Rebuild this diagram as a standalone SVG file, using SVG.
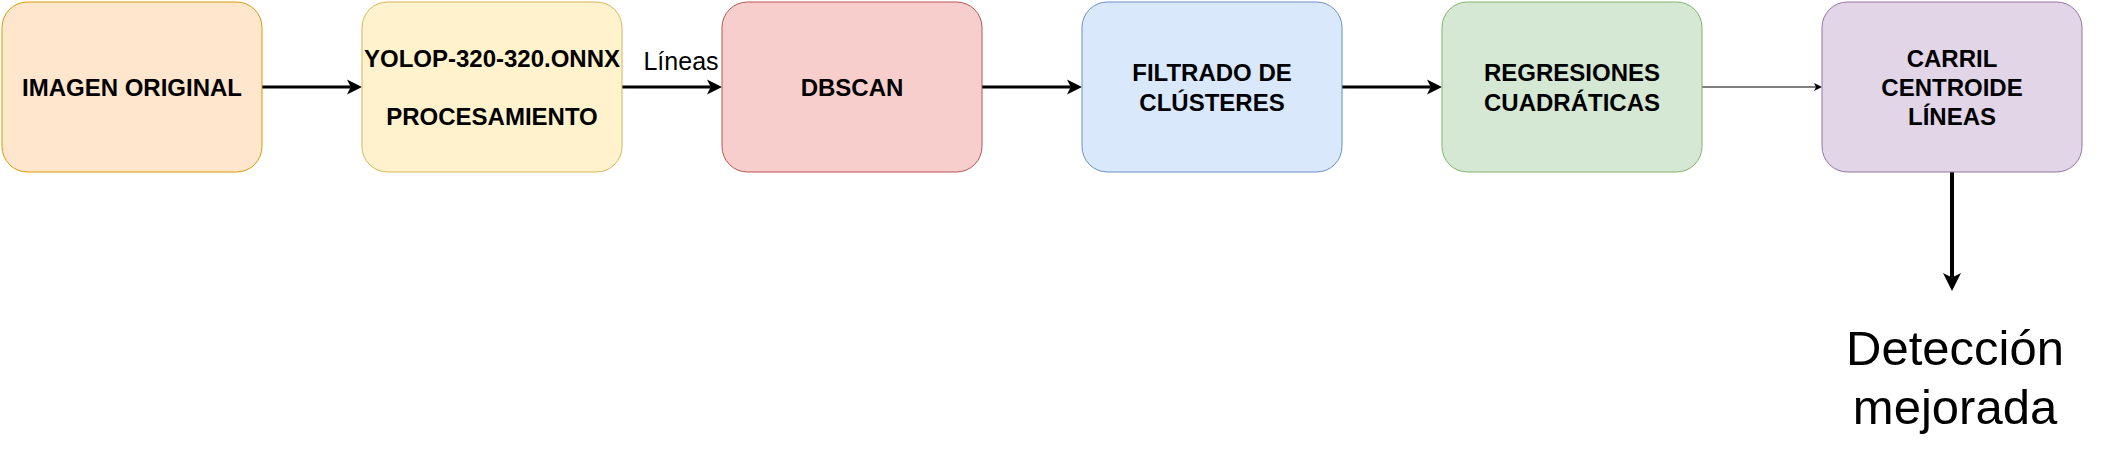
<svg xmlns="http://www.w3.org/2000/svg" width="2105" height="455" viewBox="0 0 2105 455">
<style>
  .box { stroke-width: 1; }
  .lbl { font-family: "Liberation Sans", Arial, Helvetica, sans-serif; font-size: 24px; font-weight: bold; text-anchor: middle; fill: #000; }
  .edge { stroke: #000; fill: none; }
  .elbl { font-family: "Liberation Sans", Arial, Helvetica, sans-serif; font-size: 25px; text-anchor: middle; fill: #000; }
  .big { font-family: "Liberation Sans", Arial, Helvetica, sans-serif; font-size: 49px; text-anchor: middle; fill: #000; }
</style>
<defs>
  <marker id="arrA" markerUnits="userSpaceOnUse" markerWidth="15" markerHeight="15" refX="3.75" refY="7.5" orient="auto" overflow="visible">
    <path d="M0,0 L15,7.5 L0,15 L3.75,7.5 Z" fill="#000"/>
  </marker>
  <marker id="arrB" markerUnits="userSpaceOnUse" markerWidth="8" markerHeight="8" refX="2" refY="4" orient="auto" overflow="visible">
    <path d="M0,0 L8,4 L0,8 L2,4 Z" fill="#000"/>
  </marker>
  <marker id="arrC" markerUnits="userSpaceOnUse" markerWidth="18" markerHeight="18" refX="4.5" refY="9" orient="auto" overflow="visible">
    <path d="M0,0 L18,9 L0,18 L4.5,9 Z" fill="#000"/>
  </marker>
</defs>
<rect width="2105" height="455" fill="#ffffff"/>

<g id="connectors">
  <line class="edge" x1="262" y1="87" x2="350.75" y2="87" stroke-width="3" marker-end="url(#arrA)"/>
  <line class="edge" x1="622" y1="87" x2="710.75" y2="87" stroke-width="3" marker-end="url(#arrA)"/>
  <text class="elbl" x="681" y="70">Líneas</text>
  <line class="edge" x1="982" y1="87" x2="1070.75" y2="87" stroke-width="3" marker-end="url(#arrA)"/>
  <line class="edge" x1="1342" y1="87" x2="1430.75" y2="87" stroke-width="3" marker-end="url(#arrA)"/>
  <line class="edge" x1="1702" y1="87" x2="1816" y2="87" stroke-width="1" marker-end="url(#arrB)"/>
  <line class="edge" x1="1952" y1="172" x2="1952" y2="277.5" stroke-width="4" marker-end="url(#arrC)"/>
</g>

<g id="imagen-original">
  <rect class="box" x="2" y="2" width="260" height="170" rx="25.5" ry="25.5" fill="#ffe6cc" stroke="#d79b00"/>
  <text class="lbl" x="132" y="95.6">IMAGEN ORIGINAL</text>
</g>

<g id="yolop">
  <rect class="box" x="362" y="2" width="260" height="170" rx="25.5" ry="25.5" fill="#fff2cc" stroke="#d6b656"/>
  <text class="lbl" x="492" y="66.6">YOLOP-320-320.ONNX</text>
  <text class="lbl" x="492" y="124.6">PROCESAMIENTO</text>
</g>

<g id="dbscan">
  <rect class="box" x="722" y="2" width="260" height="170" rx="25.5" ry="25.5" fill="#f8cecc" stroke="#b85450"/>
  <text class="lbl" x="852" y="95.6">DBSCAN</text>
</g>

<g id="filtrado">
  <rect class="box" x="1082" y="2" width="260" height="170" rx="25.5" ry="25.5" fill="#dae8fc" stroke="#6c8ebf"/>
  <text class="lbl" x="1212" y="80.6">FILTRADO DE</text>
  <text class="lbl" x="1212" y="110.6">CLÚSTERES</text>
</g>

<g id="regresiones">
  <rect class="box" x="1442" y="2" width="260" height="170" rx="25.5" ry="25.5" fill="#d5e8d4" stroke="#82b366"/>
  <text class="lbl" x="1572" y="80.6">REGRESIONES</text>
  <text class="lbl" x="1572" y="110.6">CUADRÁTICAS</text>
</g>

<g id="carril">
  <rect class="box" x="1822" y="2" width="260" height="170" rx="25.5" ry="25.5" fill="#e1d5e7" stroke="#9673a6"/>
  <text class="lbl" x="1952" y="66.6">CARRIL</text>
  <text class="lbl" x="1952" y="95.6">CENTROIDE</text>
  <text class="lbl" x="1952" y="124.6">LÍNEAS</text>
</g>

<g id="deteccion">
  <text class="big" x="1955" y="365">Detección</text>
  <text class="big" x="1955" y="424">mejorada</text>
</g>
</svg>
